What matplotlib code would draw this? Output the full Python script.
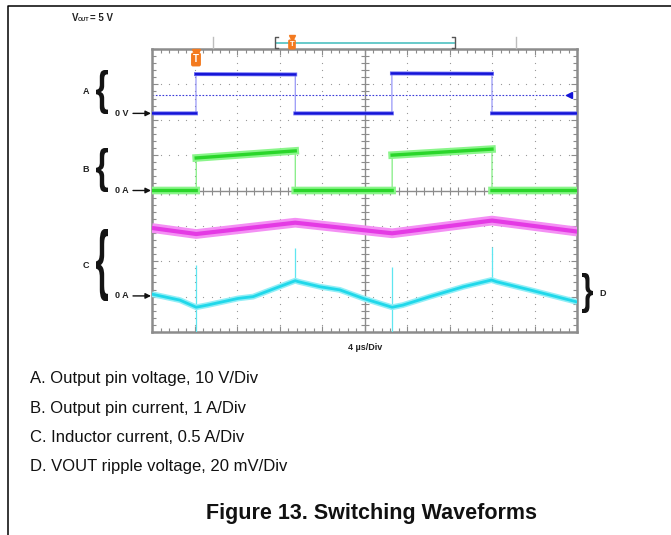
import numpy as np
import matplotlib
matplotlib.use('Agg')
from matplotlib import pyplot as plt
from matplotlib.textpath import TextPath
from matplotlib.patches import PathPatch
from matplotlib.font_manager import FontProperties
from matplotlib.transforms import Affine2D
from matplotlib.ticker import MultipleLocator

plt.rcParams['font.family'] = ['Liberation Sans', 'DejaVu Sans']

# Waveforms: time in divisions (4 us/Div), level in screen divisions (0..8)
a_t = [0, 1.035, 1.035, 3.37, 3.37, 5.645, 5.645, 8.0, 8.0, 10]
a_v = [6.18, 6.18, 7.29, 7.28, 6.18, 6.18, 7.31, 7.30, 6.18, 6.18]
b_t = [0, 1.04, 1.04, 3.37, 3.37, 5.65, 5.65, 8.0, 8.0, 10]
b_v = [4.0, 4.0, 4.92, 5.12, 4.0, 4.0, 5.0, 5.17, 4.0, 4.0]
c_t = [0, 1.04, 3.37, 5.65, 8.0, 10]
c_v = [2.94, 2.77, 3.09, 2.79, 3.15, 2.84]
d_t = [0, 0.66, 1.04, 1.3, 2.03, 2.38, 3.37, 3.45, 3.95, 4.42, 4.97,
       5.65, 5.9, 6.54, 7.33, 7.99, 8.11, 8.89, 10]
d_v = [1.07, 0.90, 0.70, 0.76, 0.95, 1.00, 1.45, 1.42, 1.28, 1.19, 0.95,
       0.70, 0.76, 1.00, 1.28, 1.47, 1.42, 1.19, 0.85]
# switching spikes on the ripple trace
spike_t = [1.035, 3.37, 5.645, 8.0]
spike_lo = [0.0, 1.45, 0.0, 1.47]
spike_hi = [1.89, 2.37, 1.85, 2.41]

ref_a = 6.70          # blue reference marker
zero_a, zero_b, zero_c = 6.18, 4.0, 1.02

legend_lines = ['A. Output pin voltage, 10 V/Div',
                'B. Output pin current, 1 A/Div',
                'C. Inductor current, 0.5 A/Div',
                'D. VOUT ripple voltage, 20 mV/Div']
caption = 'Figure 13. Switching Waveforms'

W, H = 671, 535
PX0, PX1, PY0, PY1 = 152, 577, 49, 332   # scope screen in pixels
GRAY = '#8c8c8c'
ORANGE = '#f37a1f'


def flats(t, v):
    """Break the line at vertical edges so they can be drawn thin."""
    xs, ys = [t[0]], [v[0]]
    for i in range(1, len(t)):
        if t[i] == t[i - 1]:
            xs.append(np.nan)
            ys.append(np.nan)
        xs.append(t[i])
        ys.append(v[i])
    return xs, ys


def ypx(v):
    return PY1 - v * (PY1 - PY0) / 8.0


def xpx(t):
    return PX0 + t * (PX1 - PX0) / 10.0


def brace(ax, ch, x0, y0, x1, y1):
    tp = TextPath((0, 0), ch, size=1,
                  prop=FontProperties(family='Liberation Sans', weight='bold'))
    ext = tp.get_extents()
    tr = Affine2D().translate(-ext.x0, -ext.y1) \
        .scale((x1 - x0) / ext.width, -(y1 - y0) / ext.height) \
        .translate(x0, y0)
    ax.add_patch(PathPatch(tr.transform_path(tp), fc='#141414', ec='none'))


def trig(ax, x, y, size=6.5):
    ax.plot(x, y - 5, marker='v', ms=size * 0.9, color=ORANGE, ls='none')
    ax.text(x, y + 1.5, 'T', color='white', fontsize=size, fontweight='bold',
            ha='center', va='center',
            bbox=dict(boxstyle='round,pad=0.2', fc=ORANGE, ec='none'))


fig = plt.figure(figsize=(W / 100, H / 100), dpi=100)

# ---- scope screen
ax = fig.add_axes([PX0 / W, (H - PY1) / H, (PX1 - PX0) / W, (PY1 - PY0) / H])
ax.set_xlim(0, 10)
ax.set_ylim(0, 8)
ax.xaxis.set_major_locator(MultipleLocator(1))
ax.yaxis.set_major_locator(MultipleLocator(1))
ax.xaxis.set_minor_locator(MultipleLocator(0.2))
ax.yaxis.set_minor_locator(MultipleLocator(0.2))
ax.tick_params(which='both', direction='in', top=True, right=True,
               labelbottom=False, labelleft=False, color=GRAY, width=0.8)
ax.tick_params(which='major', length=4)
ax.tick_params(which='minor', length=3)
for s in ax.spines.values():
    s.set_color(GRAY)
    s.set_linewidth(1.8)

ys = np.arange(0, 8.01, 0.2)
xs = np.arange(0, 10.01, 0.2)
for gx in range(1, 10):
    if gx != 5:
        ax.plot(np.full(len(ys), gx), ys, ls='none', marker='s', ms=0.8,
                mew=0, color='#9a9a9a')
for gy in range(1, 8):
    if gy != 4:
        ax.plot(xs, np.full(len(xs), gy), ls='none', marker='s', ms=0.8,
                mew=0, color='#9a9a9a')
ax.axhline(4, color=GRAY, lw=1)
ax.axvline(5, color=GRAY, lw=1)
ax.plot(xs, np.full(len(xs), 4), ls='none', marker='|', ms=6, mew=0.8, color=GRAY)
ax.plot(np.full(len(ys), 5), ys, ls='none', marker='_', ms=6, mew=0.8, color=GRAY)

# A: output pin voltage
ax.plot(a_t, a_v, color='#7a7af5', lw=0.7, zorder=3)
fx, fy = flats(a_t, a_v)
ax.plot(fx, fy, color='#6868f2', lw=2.8, zorder=3)
ax.plot(fx, fy, color='#1414d6', lw=1.6, zorder=3)
ax.axhline(ref_a, xmax=0.985, color='#3a3ad8', lw=0.8, ls=(0, (1.5, 1.5)))
ax.plot(9.82, ref_a, marker='<', ms=4, color='#1414d6')

# B: output pin current
ax.plot(b_t, b_v, color='#5ee85e', lw=0.7, zorder=3)
fx, fy = flats(b_t, b_v)
ax.plot(fx, fy, color='#8af58a', lw=5.5, zorder=3)
ax.plot(fx, fy, color='#2ad62a', lw=2.4, zorder=3)

# C: inductor current
ax.plot(c_t, c_v, color='#f490f4', lw=7, zorder=3, solid_capstyle='butt')
ax.plot(c_t, c_v, color='#e43ae4', lw=3, zorder=3)

# D: output ripple
ax.vlines(spike_t, spike_lo, spike_hi, color='#5fe6f0', lw=0.9, zorder=3)
ax.plot(d_t, d_v, color='#92eef6', lw=4.2, zorder=3, solid_capstyle='butt')
ax.plot(d_t, d_v, color='#20d8ea', lw=2, zorder=3)

# ---- annotations in pixel coordinates
ov = fig.add_axes([0, 0, 1, 1])
ov.set_xlim(0, W)
ov.set_ylim(H, 0)
ov.axis('off')
ov.patch.set_alpha(0)

ov.plot([8, 8, W], [H, 6, 6], color='black', lw=1.1)

ov.text(72, 18, 'V', fontsize=7, fontweight='bold', va='center', color='#222')
ov.text(77.5, 19.5, 'OUT', fontsize=4, fontweight='bold', va='center', color='#222')
ov.text(89.5, 18, '= 5 V', fontsize=7, fontweight='bold', va='center', color='#222')

# record bar above the screen
ov.plot([213, 213], [37, 48], color='#bdbdbd', lw=1)
ov.plot([516, 516], [37, 48], color='#bdbdbd', lw=1)
ov.plot([276, 454], [42.5, 42.5], color='#5cc6c6', lw=1.3)
ov.plot([278, 275, 275, 278], [37, 37, 48, 48], color='#555', lw=1)
ov.plot([452, 455, 455, 452], [37, 37, 48, 48], color='#555', lw=1)
trig(ov, 292, 43, size=5.5)
trig(ov, xpx(a_t[1]), 58, size=7)

# trace labels, braces and zero arrows
for lab, top, bot, zero, ztxt in [('A', 70, 114, zero_a, '0 V'),
                                  ('B', 148, 192, zero_b, '0 A'),
                                  ('C', 229, 301, zero_c, '0 A')]:
    brace(ov, '{', 96, top, 108, bot)
    ov.text(86, (top + bot) / 2, lab, fontsize=6.5, fontweight='bold',
            ha='center', va='center', color='#222')
    y = ypx(zero)
    ov.text(122, y, ztxt, fontsize=6.5, fontweight='bold', ha='center',
            va='center', color='#222')
    ov.annotate('', xy=(151, y), xytext=(133, y),
                arrowprops=dict(arrowstyle='-|>', color='#111', lw=1,
                                mutation_scale=8, shrinkA=0, shrinkB=0))
brace(ov, '}', 582, 273, 593, 313)
ov.text(603, 293, 'D', fontsize=6.5, fontweight='bold', ha='center',
        va='center', color='#222')

ov.text(365, 348, '4 µs/Div', fontsize=6.5, fontweight='bold', ha='center',
        va='center', color='#222')

for i, line in enumerate(legend_lines):
    ov.text(30, 379 + 29 * i, line, fontsize=12, va='center', color='#111')
ov.text(371, 514, caption, fontsize=15.5, fontweight='bold', ha='center',
        va='center', color='#111')

fig.savefig('out.png', dpi=100)
